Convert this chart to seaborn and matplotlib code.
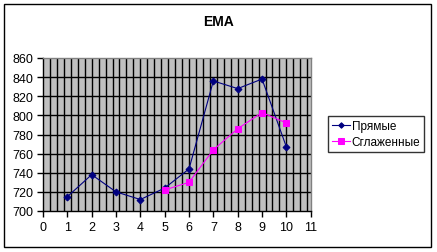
import matplotlib
matplotlib.use("Agg")
import matplotlib.pyplot as plt
import seaborn as sns
import numpy as np
import pandas as pd
from matplotlib.patches import Rectangle

title = "EMA"
x_direct = [1, 2, 3, 4, 5, 6, 7, 8, 9, 10]
y_direct = [715, 738, 720, 712, 724, 744, 836, 828, 838, 767]
x_smooth = [5, 6, 7, 8, 9, 10]
y_smooth = [722, 730, 764, 786, 803, 792]
series_names = ["Прямые", "Сглаженные"]
x_ticks = list(range(0, 12))
y_ticks = list(range(700, 861, 20))

plt.rcParams['font.family'] = ['Liberation Sans', 'DejaVu Sans']

fig = plt.figure(figsize=(4.37, 2.53), dpi=100)
fig.patch.set_facecolor("white")
ax = fig.add_axes([43/437, 1-212/253, (310.7-43)/437, (212-59)/253])
ax.set_facecolor("#C0C0C0")

df1 = pd.DataFrame({"x": x_direct, "y": y_direct})
df2 = pd.DataFrame({"x": x_smooth, "y": y_smooth})

# gridlines
for gx in np.arange(0, 11, 2/7)[1:]:
    ax.axvline(gx, color="black", lw=1.0, zorder=1)
for gy in y_ticks[1:-1]:
    ax.axhline(gy, color="black", lw=1.0, zorder=1)

sns.lineplot(data=df1, x="x", y="y", ax=ax, color="#000080", marker="D",
             markersize=3.5, markeredgecolor="#000080", lw=0.8, label=series_names[0], zorder=3)
sns.lineplot(data=df2, x="x", y="y", ax=ax, color="#FF00FF", marker="s",
             markersize=5, markeredgecolor="#FF00FF", lw=0.8, label=series_names[1], zorder=3)

ax.set_xlim(0, 11)
ax.set_ylim(700, 860)
ax.set_xticks(x_ticks)
ax.set_yticks(y_ticks)
ax.set_xlabel("")
ax.set_ylabel("")
ax.tick_params(axis="both", labelsize=9, length=4, width=1, color="black", pad=3)
for side in ["left", "bottom"]:
    ax.spines[side].set_color("black")
    ax.spines[side].set_linewidth(1)
for side in ["top", "right"]:
    ax.spines[side].set_color("#808080")
    ax.spines[side].set_linewidth(1)

leg = ax.legend(loc="center left", bbox_to_anchor=(328/437, 1-135/253),
                bbox_transform=fig.transFigure, frameon=True, fancybox=False,
                fontsize=8.5, handlelength=1.5, borderpad=0.35, labelspacing=0.35,
                handletextpad=0.15, borderaxespad=0, markerscale=0.8)
leg.get_frame().set_edgecolor("black")
leg.get_frame().set_linewidth(1)
leg.get_frame().set_facecolor("white")

fig.text(218/437, 1-22/253, title, ha="center", va="center", fontsize=10, fontweight="bold")

fig.patches.append(Rectangle((4/437, 5/253), 427/437, 243/253, transform=fig.transFigure,
                             fill=False, edgecolor="black", lw=1))

fig.savefig("out.png", dpi=100, facecolor="white")
